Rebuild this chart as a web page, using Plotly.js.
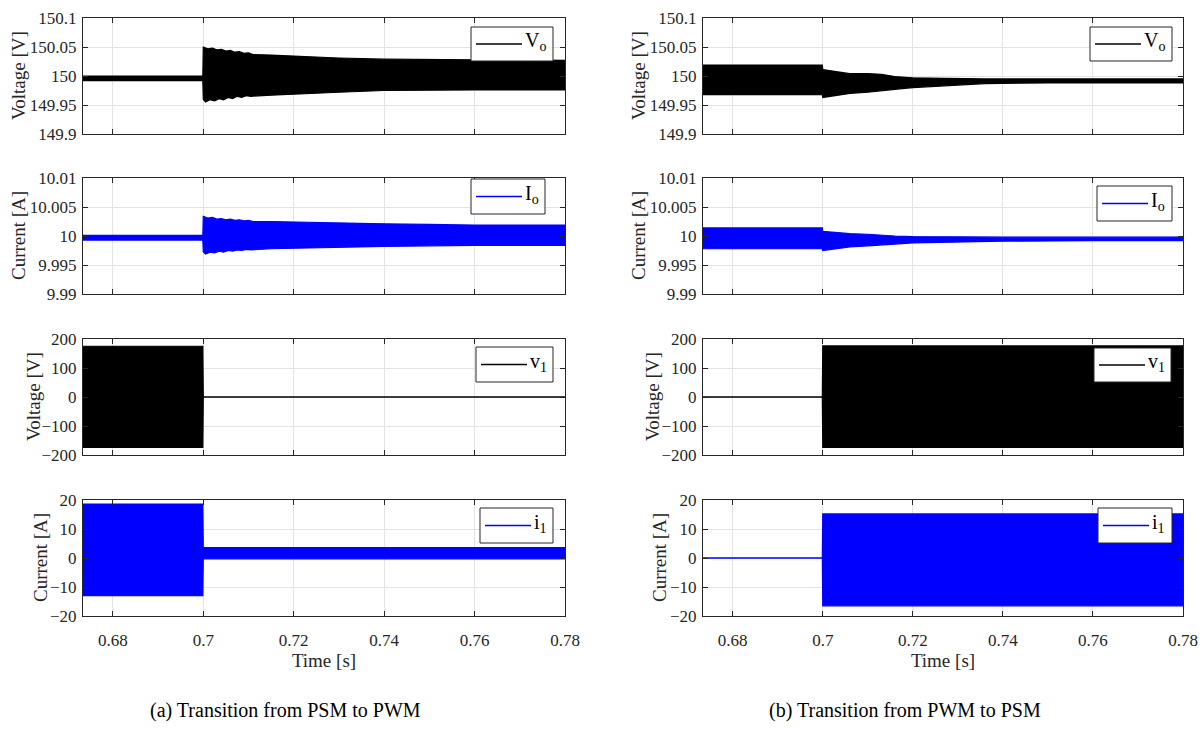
<!DOCTYPE html>
<html><head><meta charset="utf-8">
<script src="https://cdn.plot.ly/plotly-3.0.1.min.js"></script>
<style>html,body{margin:0;padding:0;background:#fff}</style>
</head><body><div id="chart" style="width:1202px;height:734px"></div>
<script>
// ---------- data: upper / lower envelopes of the switching waveforms ----------
// (a) Transition from PSM to PWM
const aVoTHi = [0.6734, 0.6999, 0.7, 0.701, 0.702, 0.703, 0.704, 0.705, 0.706, 0.707, 0.708, 0.709, 0.710, 0.711, 0.715, 0.72, 0.73, 0.74, 0.75, 0.76, 0.78];
const aVoHi  = [150.000, 150.000, 150.050, 150.047, 150.048, 150.045, 150.046, 150.043, 150.044, 150.041, 150.042, 150.039, 150.040, 150.037, 150.036, 150.034, 150.031, 150.029, 150.028, 150.028, 150.027];
const aVoTLo = [0.6734, 0.6999, 0.7, 0.7005, 0.7015, 0.7025, 0.7035, 0.7045, 0.7055, 0.7065, 0.7075, 0.7085, 0.7095, 0.7105, 0.715, 0.72, 0.73, 0.74, 0.75, 0.76, 0.78];
const aVoLo  = [149.992, 149.992, 149.960, 149.955, 149.959, 149.957, 149.961, 149.959, 149.963, 149.961, 149.965, 149.963, 149.966, 149.965, 149.967, 149.969, 149.972, 149.975, 149.976, 149.976, 149.976];

const aIoTHi = [0.6734, 0.6999, 0.7, 0.701, 0.702, 0.703, 0.704, 0.705, 0.706, 0.707, 0.708, 0.709, 0.710, 0.711, 0.715, 0.72, 0.73, 0.74, 0.75, 0.76, 0.78];
const aIoHi  = [10.0001, 10.0001, 10.0034, 10.0031, 10.0032, 10.0029, 10.0030, 10.0028, 10.0029, 10.0027, 10.0028, 10.0026, 10.0027, 10.0025, 10.0025, 10.0024, 10.0022, 10.0021, 10.0020, 10.0019, 10.0019];
const aIoTLo = [0.6734, 0.6999, 0.7, 0.7005, 0.7015, 0.7025, 0.7035, 0.7045, 0.7055, 0.7065, 0.7075, 0.7085, 0.7095, 0.7105, 0.715, 0.72, 0.73, 0.74, 0.75, 0.76, 0.78];
const aIoLo  = [9.9993, 9.9993, 9.9973, 9.9969, 9.9972, 9.9971, 9.9974, 9.9972, 9.9975, 9.9974, 9.9976, 9.9975, 9.9977, 9.9976, 9.9978, 9.9979, 9.9981, 9.9982, 9.9983, 9.9984, 9.9984];

const aV1T  = [0.6734, 0.6999, 0.7, 0.78];
const aV1Hi = [175, 175, 0, 0];
const aV1Lo = [-174, -174, 0, 0];

const aI1T  = [0.6734, 0.6999, 0.7, 0.78];
const aI1Hi = [18.6, 18.6, 3.6, 3.6];
const aI1Lo = [-13.0, -13.0, -0.3, -0.3];

// (b) Transition from PWM to PSM
const bVoT  = [0.6734, 0.6999, 0.7, 0.703, 0.706, 0.71, 0.713, 0.716, 0.72, 0.727, 0.736, 0.75, 0.78];
const bVoHi = [150.019, 150.019, 150.011, 150.007, 150.004, 150.004, 150.003, 149.999, 149.997, 149.996, 149.995, 149.995, 149.995];
const bVoLo = [149.968, 149.968, 149.963, 149.967, 149.970, 149.972, 149.974, 149.977, 149.980, 149.983, 149.987, 149.988, 149.988];

const bIoT  = [0.6734, 0.6999, 0.7, 0.703, 0.706, 0.71, 0.713, 0.716, 0.72, 0.73, 0.74, 0.76, 0.78];
const bIoHi = [10.0014, 10.0014, 10.0008, 10.0006, 10.0004, 10.0003, 10.0001, 10.0000, 9.9999, 9.9998, 9.9998, 9.9998, 9.9998];
const bIoLo = [9.9978, 9.9978, 9.9975, 9.9978, 9.9981, 9.9983, 9.9985, 9.9986, 9.9988, 9.9990, 9.9991, 9.9992, 9.9992];

const bV1T  = [0.6734, 0.6999, 0.7, 0.78];
const bV1Hi = [0, 0, 176, 176];
const bV1Lo = [0, 0, -174, -174];

const bI1T  = [0.6734, 0.6999, 0.7, 0.78];
const bI1Hi = [0, 0, 15.2, 15.2];
const bI1Lo = [0, 0, -16.5, -16.5];

const legendNames = ['V<sub>o</sub>', 'I<sub>o</sub>', 'v<sub>1</sub>', 'i<sub>1</sub>'];
const yTitles = ['Voltage [V]', 'Current [A]', 'Voltage [V]', 'Current [A]'];
const yRanges = [[149.9, 150.1], [9.99, 10.01], [-200, 200], [-20, 20]];
const yDticks = [0.05, 0.005, 100, 10];
const xRange = [0.6734, 0.78];
const xTitle = 'Time [s]';
const captions = ['(a) Transition from PSM to PWM', '(b) Transition from PWM to PSM'];

// ---------- layout ----------
const W = 1202, H = 734;
const BLACK = '#000000', BLUE = '#0000ff';
const colors = [BLACK, BLUE, BLACK, BLUE];
// [tLower, lower, tUpper, upper]
const panels = [
  [aVoTLo, aVoLo, aVoTHi, aVoHi], [aIoTLo, aIoLo, aIoTHi, aIoHi],
  [aV1T, aV1Lo, aV1T, aV1Hi], [aI1T, aI1Lo, aI1T, aI1Hi],
  [bVoT, bVoLo, bVoT, bVoHi], [bIoT, bIoLo, bIoT, bIoHi],
  [bV1T, bV1Lo, bV1T, bV1Hi], [bI1T, bI1Lo, bI1T, bI1Hi]
];
const colPx = [[83, 565], [703, 1183]];
const rowPx = [[18, 134], [178, 294], [339, 455], [500, 616]];
// y-title centre x (pixels) per panel
const yTitleX = [19, 19, 33, 40, 639, 639, 652, 659];
// legend boxes in pixels [x0, x1, y0, y1]
const legPx = [
  [471, 553, 27, 61], [471, 545, 179, 214], [476, 553, 347, 382], [480, 553, 508, 543],
  [1090, 1172, 27, 61], [1097, 1172, 186, 221], [1094, 1171, 348, 382], [1098, 1172, 508, 543]
];
const FONT = 'Liberation Serif';
const px = x => x / W, py = y => 1 - y / H;

const traces = [];
const layout = {
  width: W, height: H, margin: {l: 0, r: 0, t: 0, b: 0},
  paper_bgcolor: '#fff', plot_bgcolor: '#fff', showlegend: false,
  font: {family: FONT, color: '#262626', size: 17},
  shapes: [], annotations: []
};

panels.forEach((p, i) => {
  const col = Math.floor(i / 4), row = i % 4;
  const n = i + 1, sfx = n === 1 ? '' : String(n);
  const c = colors[row];
  traces.push({x: p[0], y: p[1], xaxis: 'x' + sfx, yaxis: 'y' + sfx, mode: 'lines',
    line: {color: c, width: 1.2}, hoverinfo: 'skip', showlegend: false});
  traces.push({x: p[2], y: p[3], xaxis: 'x' + sfx, yaxis: 'y' + sfx, mode: 'lines',
    line: {color: c, width: 1.2}, fill: 'tonexty', fillcolor: c, name: legendNames[row], showlegend: false});
  const axCommon = {showline: true, linecolor: '#262626', linewidth: 1, mirror: 'ticks',
    ticks: 'inside', ticklen: 5, tickcolor: '#262626', showgrid: true, gridcolor: '#e3e3e3',
    gridwidth: 1, zeroline: false, tickfont: {family: FONT, size: 17, color: '#262626'}};
  const xa = Object.assign({}, axCommon, {
    domain: [px(colPx[col][0]), px(colPx[col][1])], anchor: 'y' + sfx,
    range: xRange, tick0: 0.68, dtick: 0.02, showticklabels: row === 3
  });
  if (row === 3) {
    xa.ticklabelstandoff = 9;
    xa.title = {text: xTitle, font: {family: FONT, size: 19, color: '#262626'}, standoff: 0};
  }
  layout['xaxis' + sfx] = xa;
  layout['yaxis' + sfx] = Object.assign({}, axCommon, {
    domain: [py(rowPx[row][1]), py(rowPx[row][0])], anchor: 'x' + sfx,
    range: yRanges[row], tick0: yRanges[row][0], dtick: yDticks[row],
    ticklabelstandoff: 2
  });
  // y-axis title
  layout.annotations.push({xref: 'paper', yref: 'paper', x: px(yTitleX[i]),
    y: py((rowPx[row][0] + rowPx[row][1]) / 2), xanchor: 'center', yanchor: 'middle',
    textangle: -90, showarrow: false, text: yTitles[row],
    font: {family: FONT, size: 19, color: '#262626'}});
  // legend box
  const L = legPx[i];
  const yc = (L[2] + L[3]) / 2;
  layout.shapes.push({type: 'rect', xref: 'paper', yref: 'paper', x0: px(L[0]), x1: px(L[1]),
    y0: py(L[3]), y1: py(L[2]), line: {color: '#262626', width: 1}, fillcolor: '#fff', layer: 'above'});
  layout.shapes.push({type: 'line', xref: 'paper', yref: 'paper', x0: px(L[0] + 5), x1: px(L[0] + 51),
    y0: py(yc), y1: py(yc), line: {color: c, width: 1.5}, layer: 'above'});
  layout.annotations.push({xref: 'paper', yref: 'paper', x: px(L[0] + 52), y: py(yc - 2),
    xanchor: 'left', yanchor: 'middle', showarrow: false, text: legendNames[row],
    font: {family: FONT, size: 20, color: '#000'}});
});

captions.forEach((t, k) => {
  layout.annotations.push({xref: 'paper', yref: 'paper', x: px(k === 0 ? 285 : 905), y: py(710),
    xanchor: 'center', yanchor: 'middle', showarrow: false, text: t,
    font: {family: FONT, size: 20, color: '#000'}});
});

Plotly.newPlot('chart', traces, layout, {displayModeBar: false, staticPlot: true});
</script></body></html>
